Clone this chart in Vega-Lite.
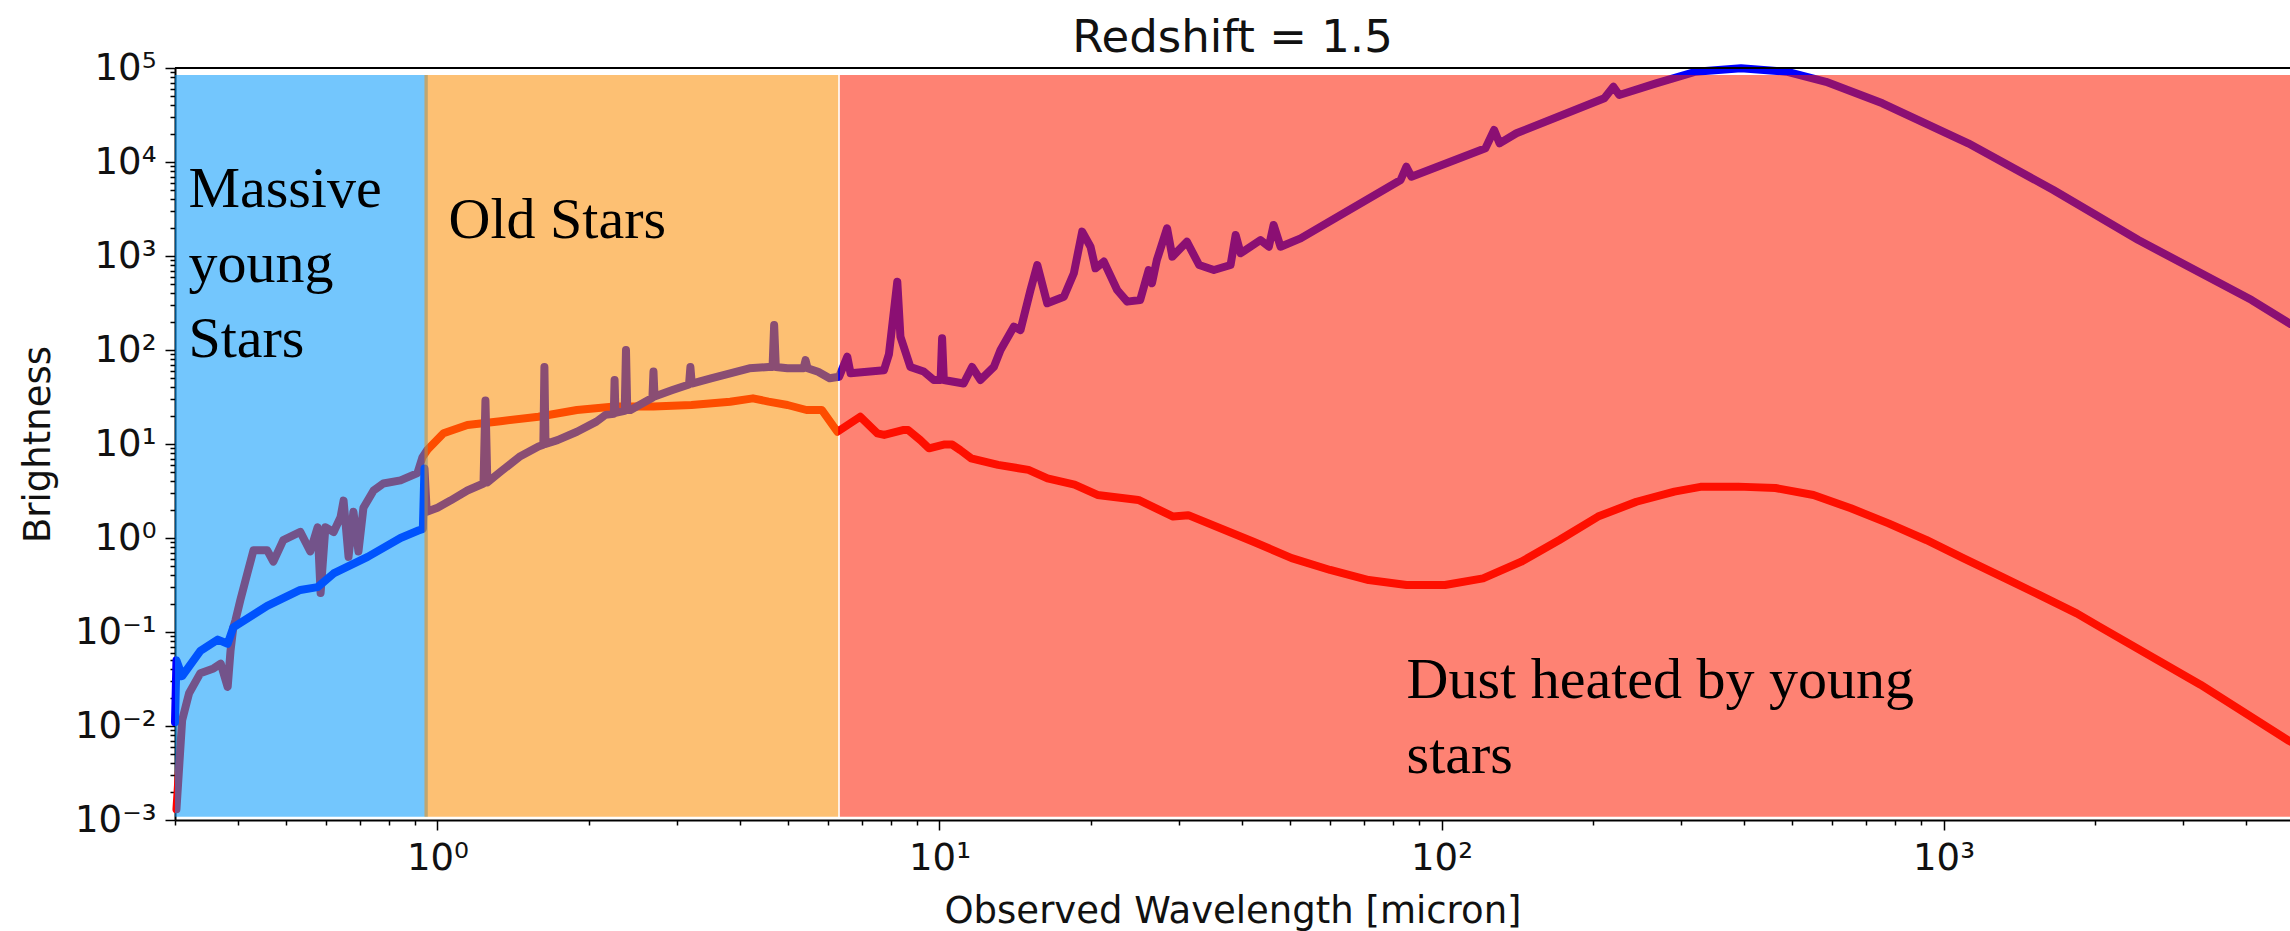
{
  "$schema": "https://vega.github.io/schema/vega-lite/v6.json",
  "width": 2115,
  "height": 752,
  "autosize": {"type": "none"},
  "padding": {"left": 175, "top": 68, "right": 0, "bottom": 111},
  "background": "white",
  "title": {"text": "Redshift = 1.5", "font": "DejaVu Sans", "fontSize": 45, "fontWeight": "normal", "color": "#111", "baseline": "alphabetic", "offset": -48},
  "config": {"view": {"stroke": null}, "font": "DejaVu Sans"},
  "datasets": {
    "spec": [
      {"s":"R","x":0.302,"y":0.0013},{"s":"R","x":0.310,"y":0.0115},{"s":"R","x":0.320,"y":0.0223},{"s":"R","x":0.337,"y":0.0365},{"s":"R","x":0.358,"y":0.041},{"s":"R","x":0.370,"y":0.046},{"s":"R","x":0.382,"y":0.026},{"s":"R","x":0.387,"y":0.063},{"s":"R","x":0.392,"y":0.112},{"s":"R","x":0.396,"y":0.134},{"s":"R","x":0.405,"y":0.22},{"s":"R","x":0.418,"y":0.42},{"s":"R","x":0.430,"y":0.74},{"s":"R","x":0.458,"y":0.74},{"s":"R","x":0.471,"y":0.56},{"s":"R","x":0.493,"y":0.95},{"s":"R","x":0.533,"y":1.16},{"s":"R","x":0.558,"y":0.72},{"s":"R","x":0.577,"y":1.3},{"s":"R","x":0.585,"y":0.26},{"s":"R","x":0.598,"y":1.3},{"s":"R","x":0.621,"y":1.16},{"s":"R","x":0.641,"y":1.66},{"s":"R","x":0.650,"y":2.5},{"s":"R","x":0.665,"y":0.63},{"s":"R","x":0.680,"y":1.9},{"s":"R","x":0.696,"y":0.72},{"s":"R","x":0.712,"y":2.1},{"s":"R","x":0.746,"y":3.2},{"s":"R","x":0.780,"y":3.8},{"s":"R","x":0.844,"y":4.1},{"s":"R","x":0.912,"y":4.9},{"s":"R","x":0.933,"y":7.2},
      {"s":"R","x":0.955,"y":8.7},{"s":"R","x":1.028,"y":13},{"s":"R","x":1.147,"y":15.9},{"s":"R","x":1.335,"y":17.5},{"s":"R","x":1.589,"y":19.5},{"s":"R","x":1.896,"y":23},{"s":"R","x":2.253,"y":25},{"s":"R","x":2.693,"y":25},{"s":"R","x":3.206,"y":26},{"s":"R","x":3.828,"y":28.2},{"s":"R","x":4.25,"y":30.6},{"s":"R","x":4.565,"y":28.2},{"s":"R","x":4.98,"y":26},{"s":"R","x":5.433,"y":23},{"s":"R","x":5.83,"y":23},{"s":"R","x":6.26,"y":13.5},
      {"s":"R","x":6.95,"y":19.5},{"s":"R","x":7.52,"y":13},{"s":"R","x":7.76,"y":12.5},{"s":"R","x":8.49,"y":14.1},{"s":"R","x":8.66,"y":14.1},{"s":"R","x":9.16,"y":11},{"s":"R","x":9.53,"y":9.0},{"s":"R","x":10.2,"y":9.85},{"s":"R","x":10.6,"y":9.85},{"s":"R","x":11.0,"y":8.6},{"s":"R","x":11.56,"y":7.05},{"s":"R","x":13.08,"y":6.0},{"s":"R","x":15.04,"y":5.3},{"s":"R","x":16.41,"y":4.3},{"s":"R","x":18.58,"y":3.7},{"s":"R","x":20.64,"y":2.87},{"s":"R","x":24.9,"y":2.54},{"s":"R","x":29.2,"y":1.69},{"s":"R","x":31.3,"y":1.75},{"s":"R","x":42.2,"y":0.914},{"s":"R","x":50.3,"y":0.61},{"s":"R","x":60.0,"y":0.457},{"s":"R","x":71.6,"y":0.357},{"s":"R","x":85.2,"y":0.316},{"s":"R","x":101.6,"y":0.316},{"s":"R","x":121,"y":0.372},{"s":"R","x":144.2,"y":0.56},{"s":"R","x":171.7,"y":0.953},{"s":"R","x":205,"y":1.69},{"s":"R","x":244.5,"y":2.43},{"s":"R","x":291,"y":3.11},{"s":"R","x":328,"y":3.5},{"s":"R","x":390,"y":3.52},{"s":"R","x":462.7,"y":3.4},{"s":"R","x":550.7,"y":2.87},{"s":"R","x":654,"y":2.07},{"s":"R","x":777,"y":1.43},{"s":"R","x":924,"y":0.953},{"s":"R","x":1097,"y":0.608},{"s":"R","x":1305,"y":0.389},{"s":"R","x":1551,"y":0.248},{"s":"R","x":1842,"y":0.158},{"s":"R","x":2044,"y":0.114},{"s":"R","x":3250,"y":0.0275},{"s":"R","x":4911,"y":0.0068},
      {"s":"B","x":0.300,"y":0.011},{"s":"B","x":0.302,"y":0.05},{"s":"B","x":0.310,"y":0.034},{"s":"B","x":0.337,"y":0.063},{"s":"B","x":0.365,"y":0.083},{"s":"B","x":0.382,"y":0.075},{"s":"B","x":0.392,"y":0.112},{"s":"B","x":0.458,"y":0.19},{"s":"B","x":0.533,"y":0.28},{"s":"B","x":0.577,"y":0.30},{"s":"B","x":0.621,"y":0.42},{"s":"B","x":0.726,"y":0.63},{"s":"B","x":0.844,"y":1.0},{"s":"B","x":0.916,"y":1.2},{"s":"B","x":0.935,"y":1.25},{"s":"B","x":0.942,"y":5.5},{"s":"B","x":0.952,"y":1.9},
      {"s":"B","x":1.0,"y":2.1},{"s":"B","x":1.061,"y":2.5},{"s":"B","x":1.147,"y":3.2},{"s":"B","x":1.235,"y":3.8},{"s":"B","x":1.246,"y":29},{"s":"B","x":1.257,"y":3.9},{"s":"B","x":1.335,"y":5.07},{"s":"B","x":1.456,"y":7.3},{"s":"B","x":1.589,"y":9.4},{"s":"B","x":1.625,"y":9.8},{"s":"B","x":1.633,"y":66},{"s":"B","x":1.641,"y":10},{"s":"B","x":1.734,"y":11},{"s":"B","x":1.896,"y":13.5},{"s":"B","x":2.073,"y":17.3},{"s":"B","x":2.161,"y":20.4},{"s":"B","x":2.245,"y":21},{"s":"B","x":2.253,"y":48},{"s":"B","x":2.262,"y":21.5},{"s":"B","x":2.36,"y":22.5},{"s":"B","x":2.374,"y":100},{"s":"B","x":2.388,"y":23},{"s":"B","x":2.424,"y":23},{"s":"B","x":2.68,"y":31},{"s":"B","x":2.693,"y":59},{"s":"B","x":2.706,"y":32},{"s":"B","x":2.938,"y":37.5},{"s":"B","x":3.17,"y":43},{"s":"B","x":3.19,"y":66},{"s":"B","x":3.21,"y":44},{"s":"B","x":3.506,"y":50},{"s":"B","x":3.828,"y":56.5},{"s":"B","x":4.18,"y":63.8},{"s":"B","x":4.565,"y":66},{"s":"B","x":4.65,"y":66},{"s":"B","x":4.684,"y":184},{"s":"B","x":4.72,"y":66},{"s":"B","x":4.98,"y":63.8},{"s":"B","x":5.36,"y":64},{"s":"B","x":5.41,"y":78},{"s":"B","x":5.46,"y":64},{"s":"B","x":5.73,"y":58.8},{"s":"B","x":6.04,"y":50},{"s":"B","x":6.31,"y":52},
      {"s":"B","x":6.55,"y":85},{"s":"B","x":6.65,"y":56.5},{"s":"B","x":7.75,"y":61},{"s":"B","x":7.93,"y":90},{"s":"B","x":8.24,"y":533},{"s":"B","x":8.36,"y":138},{"s":"B","x":8.75,"y":66},{"s":"B","x":9.30,"y":59},{"s":"B","x":9.74,"y":48},{"s":"B","x":10.05,"y":48},{"s":"B","x":10.12,"y":133},{"s":"B","x":10.2,"y":48},{"s":"B","x":11.17,"y":44},{"s":"B","x":11.61,"y":66},{"s":"B","x":12.07,"y":48},{"s":"B","x":12.83,"y":66},{"s":"B","x":13.23,"y":100},{"s":"B","x":14.06,"y":177},{"s":"B","x":14.5,"y":163},{"s":"B","x":15.18,"y":435},{"s":"B","x":15.66,"y":802},{"s":"B","x":16.39,"y":314},{"s":"B","x":17.69,"y":369},{"s":"B","x":18.52,"y":655},{"s":"B","x":19.24,"y":1815},{"s":"B","x":19.99,"y":1256},{"s":"B","x":20.45,"y":740},{"s":"B","x":21.25,"y":872},{"s":"B","x":22.59,"y":435},{"s":"B","x":23.65,"y":327},{"s":"B","x":25.1,"y":340},{"s":"B","x":26.1,"y":710},{"s":"B","x":26.5,"y":513},{"s":"B","x":27.1,"y":906},{"s":"B","x":28.4,"y":1972},{"s":"B","x":29.1,"y":984},{"s":"B","x":31.1,"y":1419},{"s":"B","x":32.9,"y":802},{"s":"B","x":35.2,"y":710},{"s":"B","x":38.0,"y":802},{"s":"B","x":38.9,"y":1671},{"s":"B","x":39.8,"y":1069},{"s":"B","x":43.6,"y":1479},{"s":"B","x":45.3,"y":1256},{"s":"B","x":46.3,"y":2138},{"s":"B","x":47.8,"y":1256},{"s":"B","x":52.4,"y":1541},{"s":"B","x":82.9,"y":6436},{"s":"B","x":85.1,"y":8900},{"s":"B","x":87.1,"y":6980},{"s":"B","x":122.3,"y":13970},{"s":"B","x":127.3,"y":21900},{"s":"B","x":130.5,"y":15800},{"s":"B","x":141,"y":20200},{"s":"B","x":211,"y":47600},{"s":"B","x":220,"y":63200},{"s":"B","x":226,"y":51600},{"s":"B","x":267.5,"y":68700},{"s":"B","x":320.6,"y":91300},{"s":"B","x":395,"y":99300},{"s":"B","x":486.8,"y":91300},{"s":"B","x":583.3,"y":71400},{"s":"B","x":755.6,"y":42100},{"s":"B","x":1120,"y":15800},{"s":"B","x":1655,"y":5040},{"s":"B","x":2444,"y":1479},{"s":"B","x":4110,"y":340},{"s":"B","x":4911,"y":189}
    ],
    "regions": [
      {"region":"young","x0":0.3,"x1":0.9565,"y0":0.00108,"y1":84000},
      {"region":"old","x0":0.942,"x1":6.284,"y0":0.00108,"y1":84000},
      {"region":"dust","x0":6.33,"x1":4900,"y0":0.00108,"y1":84000}
    ],
    "notes": [
      {"x":0.319,"y":3320,"label":"Massive\nyoung\nStars"},
      {"x":1.052,"y":1552,"label":"Old Stars"},
      {"x":85.2,"y":0.0199,"label":"Dust heated by young\nstars"}
    ]
  },
  "layer": [
    {
      "data": {"name": "spec"},
      "transform": [{"filter": "datum.s == 'R'"}],
      "mark": {"type": "line", "color": "#FF0000", "strokeWidth": 8, "strokeJoin": "round", "strokeCap": "round"},
      "encoding": {
        "x": {"field": "x", "type": "quantitative", "scale": {"type": "log", "domain": [0.3, 4900], "nice": false},
          "axis": {
            "title": "Observed Wavelength [micron]",
            "values": [0.3,0.4,0.5,0.6,0.7,0.8,0.9,1,2,3,4,5,6,7,8,9,10,20,30,40,50,60,70,80,90,100,200,300,400,500,600,700,800,900,1000,2000,3000,4000],
            "labelExpr": "datum.value==1?'10⁰':datum.value==10?'10¹':datum.value==100?'10²':datum.value==1000?'10³':''",
            "tickSize": {"condition": {"test": "datum.value==1||datum.value==10||datum.value==100||datum.value==1000", "value": 10}, "value": 5},
            "grid": false, "labelOverlap": false, "labelFlush": false, "labelBound": false,
            "labelFont": "DejaVu Sans", "labelFontSize": 37, "labelColor": "#111", "labelPadding": 10,
            "titleFont": "DejaVu Sans", "titleFontSize": 37, "titleFontWeight": "normal", "titleColor": "#111", "titlePadding": 17,
            "domainColor": "#000", "domainWidth": 2, "tickColor": "#000", "tickWidth": 1.5
          }},
        "y": {"field": "y", "type": "quantitative", "scale": {"type": "log", "domain": [0.001, 100000], "nice": false},
          "axis": {
            "title": "Brightness",
            "values": [0.001,0.002,0.003,0.004,0.005,0.006,0.007,0.008,0.009,0.01,0.02,0.03,0.04,0.05,0.06,0.07,0.08,0.09,0.1,0.2,0.3,0.4,0.5,0.6,0.7,0.8,0.9,1,2,3,4,5,6,7,8,9,10,20,30,40,50,60,70,80,90,100,200,300,400,500,600,700,800,900,1000,2000,3000,4000,5000,6000,7000,8000,9000,10000,20000,30000,40000,50000,60000,70000,80000,90000,100000],
            "labelExpr": "datum.value==0.001?'10⁻³':datum.value==0.01?'10⁻²':datum.value==0.1?'10⁻¹':datum.value==1?'10⁰':datum.value==10?'10¹':datum.value==100?'10²':datum.value==1000?'10³':datum.value==10000?'10⁴':datum.value==100000?'10⁵':''",
            "tickSize": {"condition": {"test": "datum.value==0.001||datum.value==0.01||datum.value==0.1||datum.value==1||datum.value==10||datum.value==100||datum.value==1000||datum.value==10000||datum.value==100000", "value": 10}, "value": 5},
            "grid": false, "labelOverlap": false, "labelFlush": false, "labelBound": false,
            "labelFont": "DejaVu Sans", "labelFontSize": 37, "labelColor": "#111", "labelPadding": 9,
            "titleFont": "DejaVu Sans", "titleFontSize": 37, "titleFontWeight": "normal", "titleColor": "#111", "titlePadding": 17,
            "domainColor": "#000", "domainWidth": 2, "tickColor": "#000", "tickWidth": 1.5
          }}
      }
    },
    {
      "data": {"name": "spec"},
      "transform": [{"filter": "datum.s == 'B'"}],
      "mark": {"type": "line", "color": "#0000FF", "strokeWidth": 8, "strokeJoin": "round", "strokeCap": "round"},
      "encoding": {
        "x": {"field": "x", "type": "quantitative"},
        "y": {"field": "y", "type": "quantitative"}
      }
    },
    {
      "data": {"name": "regions"},
      "mark": {"type": "rect", "opacity": 0.55},
      "encoding": {
        "x": {"field": "x0", "type": "quantitative"},
        "x2": {"field": "x1"},
        "y": {"field": "y0", "type": "quantitative"},
        "y2": {"field": "y1"},
        "color": {"field": "region", "type": "nominal", "legend": null,
          "scale": {"domain": ["young", "old", "dust"], "range": ["#0097FB", "#FB8C00", "#FD1C00"]}}
      }
    },
    {
      "data": {"values": [{"v": 100000}]},
      "mark": {"type": "rule", "color": "#000", "strokeWidth": 2},
      "encoding": {"y": {"field": "v", "type": "quantitative"}}
    },
    {
      "data": {"name": "notes"},
      "mark": {"type": "text", "font": "Liberation Serif", "fontSize": 58, "align": "left", "baseline": "alphabetic", "lineBreak": "\n", "lineHeight": 75, "color": "#000"},
      "encoding": {
        "x": {"field": "x", "type": "quantitative"},
        "y": {"field": "y", "type": "quantitative"},
        "text": {"field": "label"}
      }
    }
  ]
}
